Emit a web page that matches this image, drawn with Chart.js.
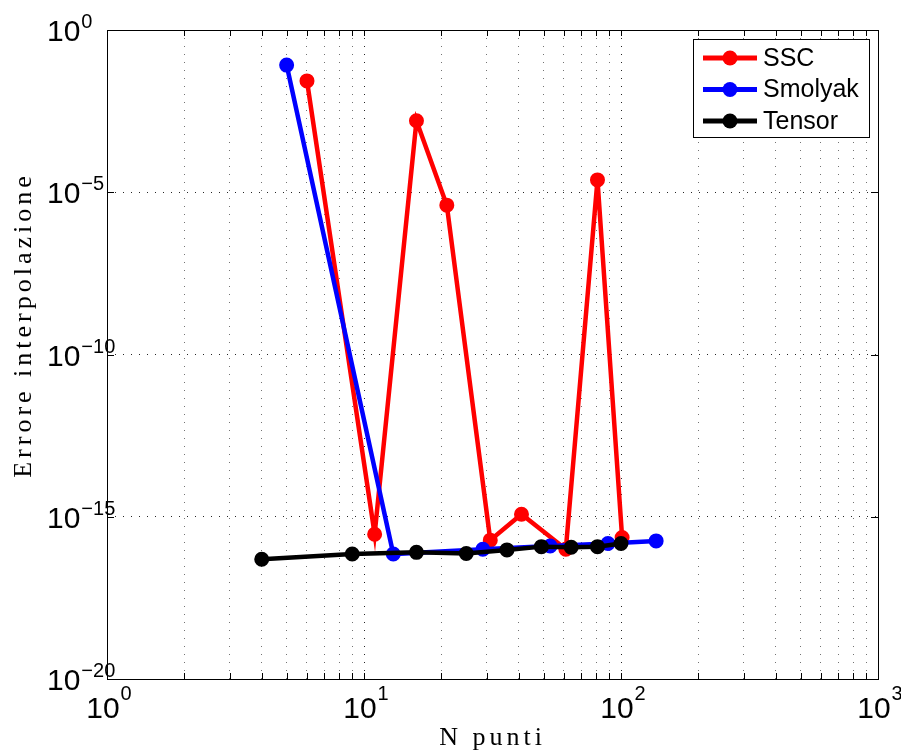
<!DOCTYPE html>
<html>
<head>
<meta charset="utf-8">
<script src="https://cdn.jsdelivr.net/npm/chart.js@4.4.1/dist/chart.umd.min.js"></script>
<style>
html,body{margin:0;padding:0;background:#fff;}
#wrap{width:901px;height:756px;}
canvas{display:block;}
</style>
</head>
<body>
<div id="wrap"><canvas id="c" width="901" height="756"></canvas></div>
<script>
// ---- data ----
const seriesNames = ['SSC', 'Smolyak', 'Tensor'];
const sscX = [6, 11, 16, 21, 31, 41, 61, 81, 101];
const sscY = [2.7e-2, 2.9e-16, 1.6e-3, 4.0e-6, 1.9e-16, 1.2e-15, 1.0e-16, 2.4e-5, 2.3e-16];
const smolyakX = [5, 13, 29, 53, 89, 137];
const smolyakY = [8.3e-2, 7.1e-17, 1.0e-16, 1.26e-16, 1.5e-16, 1.8e-16];
const tensorX = [4, 9, 16, 25, 36, 49, 64, 81, 100];
const tensorY = [4.9e-17, 7.1e-17, 8.0e-17, 7.4e-17, 9.5e-17, 1.2e-16, 1.15e-16, 1.2e-16, 1.5e-16];

// ticks
const xGridValues = [1,2,3,4,5,6,7,8,9,10,20,30,40,50,60,70,80,90,100,200,300,400,500,600,700,800,900,1000];
const xLabelValues = [1, 10, 100, 1000];
const xLabelExponents = ['0', '1', '2', '3'];
const yLabelValues = [1e-20, 1e-15, 1e-10, 1e-5, 1];
const yLabelExponents = ['\u221220', '\u221215', '\u221210', '\u22125', '0'];
const xTitle = 'N punti';
const yTitle = 'Errore interpolazione';

const colors = ['rgb(255,0,0)', 'rgb(0,0,255)', 'rgb(0,0,0)'];

function pts(xs, ys) { return xs.map((v, i) => ({x: v, y: ys[i]})); }

function isDecade(v) {
  const l = Math.log10(v);
  return Math.abs(l - Math.round(l)) < 1e-9;
}

const SANS = '"Liberation Sans", Arial, Helvetica, sans-serif';
const SERIF = '"Liberation Serif", "Times New Roman", serif';

const matlabAxes = {
  id: 'matlabAxes',
  afterDraw(chart) {
    const ctx = chart.ctx;
    const a = chart.chartArea;
    const xs = chart.scales.x, ys = chart.scales.y;
    ctx.save();
    // inward tick marks
    ctx.strokeStyle = '#000';
    ctx.lineWidth = 1;
    ctx.setLineDash([]);
    ctx.beginPath();
    xGridValues.forEach(v => {
      const px = Math.round(xs.getPixelForValue(v)) + 0.5;
      ctx.moveTo(px, a.bottom); ctx.lineTo(px, a.bottom - 6);
      ctx.moveTo(px, a.top); ctx.lineTo(px, a.top + 6);
    });
    yLabelValues.forEach(v => {
      const py = Math.round(ys.getPixelForValue(v)) + 0.5;
      ctx.moveTo(a.left, py); ctx.lineTo(a.left + 7, py);
      ctx.moveTo(a.right, py); ctx.lineTo(a.right - 7, py);
    });
    ctx.stroke();
    // frame
    ctx.strokeRect(Math.round(a.left) + 0.5, Math.round(a.top) + 0.5, Math.round(a.right - a.left), Math.round(a.bottom - a.top));

    // tick labels
    ctx.fillStyle = '#000';
    ctx.textBaseline = 'alphabetic';
    const bigFont = '30px ' + SANS;
    const smallFont = '20px ' + SANS;
    xLabelValues.forEach((v, i) => {
      ctx.font = bigFont;
      const w1 = ctx.measureText('10').width;
      ctx.font = smallFont;
      const w2 = ctx.measureText(xLabelExponents[i]).width;
      const cx = xs.getPixelForValue(v) + 2;
      const left = cx - (w1 + 1 + w2) / 2;
      ctx.textAlign = 'left';
      ctx.font = bigFont;
      ctx.fillText('10', left, a.bottom + 39);
      ctx.font = smallFont;
      ctx.fillText(xLabelExponents[i], left + w1 + 1, a.bottom + 21);
    });
    yLabelValues.forEach((v, i) => {
      const py = ys.getPixelForValue(v);
      const left = a.left - 60;
      ctx.textAlign = 'left';
      ctx.font = bigFont;
      const w1 = ctx.measureText('10').width;
      ctx.fillText('10', left, py + 11);
      ctx.font = smallFont;
      ctx.fillText(yLabelExponents[i], left + w1 + 1, py - 2);
    });

    // axis titles
    ctx.font = '26px ' + SERIF;
    ctx.letterSpacing = '4px';
    ctx.textAlign = 'center';
    ctx.fillText(xTitle, (a.left + a.right) / 2, 745);
    ctx.save();
    ctx.translate(31, 325);
    ctx.rotate(-Math.PI / 2);
    ctx.fillText(yTitle, 0, 0);
    ctx.restore();
    ctx.letterSpacing = '0px';

    // legend (inside, top-right)
    const lx = 693.5, ly = 39.5, lw = 176, lh = 98;
    ctx.fillStyle = '#fff';
    ctx.fillRect(lx, ly, lw, lh);
    ctx.strokeStyle = '#000';
    ctx.lineWidth = 1;
    ctx.strokeRect(lx, ly, lw, lh);
    const rows = [58, 89.5, 121];
    chart.data.datasets.forEach((ds, i) => {
      const yy = rows[i];
      ctx.strokeStyle = ds.borderColor;
      ctx.lineWidth = 5;
      ctx.beginPath();
      ctx.moveTo(703, yy); ctx.lineTo(757, yy);
      ctx.stroke();
      ctx.fillStyle = ds.borderColor;
      ctx.beginPath();
      ctx.arc(730, yy, 7.5, 0, Math.PI * 2);
      ctx.fill();
      ctx.fillStyle = '#000';
      ctx.font = '25px ' + SANS;
      ctx.textAlign = 'left';
      ctx.textBaseline = 'middle';
      ctx.fillText(ds.label, 763, yy + 1);
    });
    ctx.restore();
  }
};

function mkDataset(i, xsArr, ysArr, order) {
  return {
    label: seriesNames[i],
    data: pts(xsArr, ysArr),
    showLine: true,
    borderColor: colors[i],
    backgroundColor: colors[i],
    pointBackgroundColor: colors[i],
    pointBorderColor: colors[i],
    borderWidth: 4.5,
    pointRadius: 6,
    pointBorderWidth: 3,
    pointHoverRadius: 6,
    tension: 0,
    order: order
  };
}

new Chart(document.getElementById('c'), {
  type: 'scatter',
  data: {
    datasets: [
      mkDataset(0, sscX, sscY, 3),
      mkDataset(1, smolyakX, smolyakY, 2),
      mkDataset(2, tensorX, tensorY, 1)
    ]
  },
  options: {
    responsive: false,
    animation: false,
    devicePixelRatio: 1,
    layout: { padding: { left: 107, right: 23, top: 30, bottom: 77 } },
    plugins: { legend: { display: false }, tooltip: { enabled: false } },
    scales: {
      x: {
        type: 'logarithmic',
        min: 1, max: 1000,
        afterBuildTicks: s => { s.ticks = xGridValues.map(v => ({value: v, major: isDecade(v)})); },
        ticks: { display: false },
        grid: {
          drawTicks: false,
          lineWidth: 1,
          color: c => (c.tick && isDecade(c.tick.value)) ? 'rgba(0,0,0,0.85)' : 'rgba(0,0,0,0.55)'
        },
        border: { display: false, dash: [1, 7] },
        title: { display: false }
      },
      y: {
        type: 'logarithmic',
        min: 1e-20, max: 1,
        afterBuildTicks: s => { s.ticks = yLabelValues.map(v => ({value: v, major: true})); },
        ticks: { display: false },
        grid: { drawTicks: false, lineWidth: 1, color: 'rgba(0,0,0,0.85)' },
        border: { display: false, dash: [1, 7] },
        title: { display: false }
      }
    }
  },
  plugins: [matlabAxes]
});
</script>
</body>
</html>
